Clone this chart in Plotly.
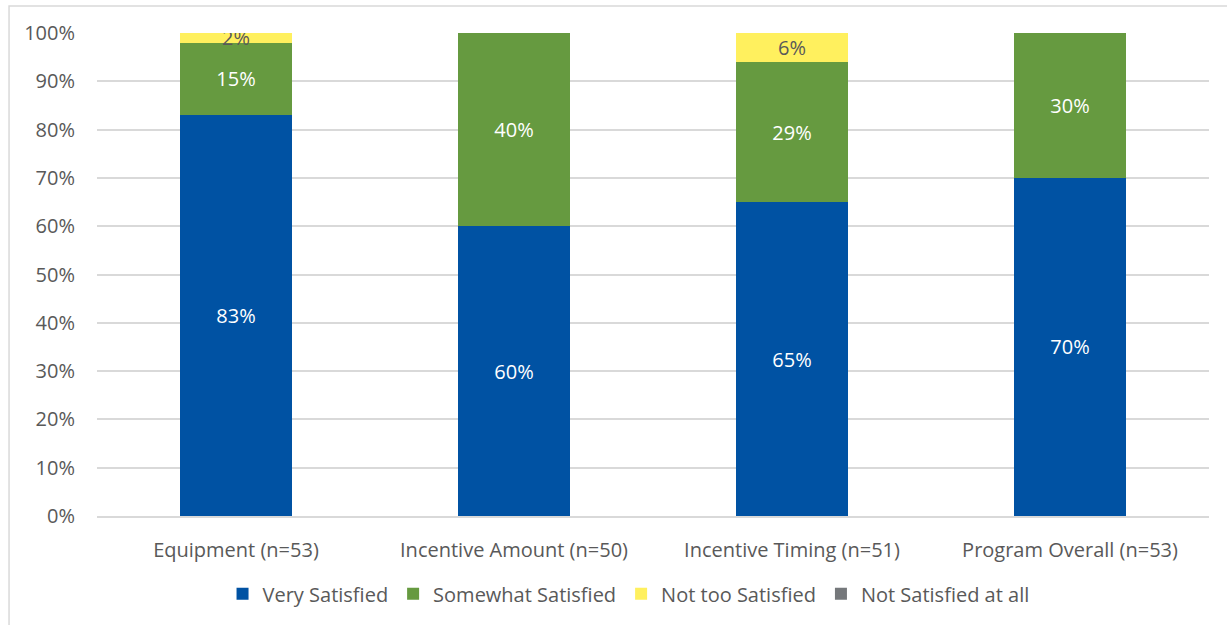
import plotly.graph_objects as go

categories = ["Equipment (n=53)", "Incentive Amount (n=50)", "Incentive Timing (n=51)", "Program Overall (n=53)"]
very_satisfied = [83, 60, 65, 70]
somewhat_satisfied = [15, 40, 29, 30]
not_too_satisfied = [2, 0, 6, 0]
not_satisfied_at_all = [0, 0, 0, 0]

series = [
    ("Very Satisfied", very_satisfied, "#0052A3", "white"),
    ("Somewhat Satisfied", somewhat_satisfied, "#669A40", "white"),
    ("Not too Satisfied", not_too_satisfied, "#FFF05E", "#595959"),
    ("Not Satisfied at all", not_satisfied_at_all, "#75787B", "white"),
]

FONT = "Open Sans"
SIZE = 20
fig = go.Figure()
for name, vals, color, tcolor in series:
    fig.add_trace(go.Bar(
        name=name,
        x=categories,
        y=[v / 100 for v in vals],
        marker=dict(color=color, line=dict(width=0)),
        text=[f"{v}%" if v > 0 else "" for v in vals],
        textposition="inside",
        insidetextanchor="middle",
        constraintext="none",
        textangle=0,
        textfont=dict(family=FONT, size=SIZE, color=tcolor),
        hoverinfo="skip",
    ))

fig.update_layout(
    barmode="stack",
    bargap=0.597,
    width=1227,
    height=625,
    margin=dict(l=97, r=18, t=33, b=107),
    paper_bgcolor="white",
    plot_bgcolor="white",
    font=dict(family=FONT, size=SIZE, color="#595959"),
    showlegend=True,
    legend=dict(
        orientation="h",
        x=0.478, xanchor="center",
        y=-0.161, yanchor="middle",
        font=dict(family=FONT, size=SIZE, color="#595959"),
        itemsizing="constant",
        traceorder="normal",
    ),
    xaxis=dict(
        showgrid=False,
        showline=True,
        linecolor="#D9D9D9",
        linewidth=1.5,
        ticks="",
        ticklabelstandoff=15,
        tickfont=dict(family=FONT, size=SIZE, color="#595959"),
    ),
    yaxis=dict(
        range=[0, 1],
        tickvals=[i / 10 for i in range(11)],
        tickformat=".0%",
        showgrid=True,
        gridcolor="#D9D9D9",
        gridwidth=1.5,
        zeroline=False,
        showline=False,
        ticks="",
        ticklabelstandoff=21,
        tickfont=dict(family=FONT, size=SIZE, color="#595959"),
    ),
    shapes=[dict(
        type="rect", xref="paper", yref="paper",
        x0=-0.0791, x1=1.03, y0=-0.25, y1=1.0557,
        line=dict(color="#D9D9D9", width=1.5),
        fillcolor="rgba(0,0,0,0)",
        layer="below",
    )],
)

fig.write_html("out.html")
